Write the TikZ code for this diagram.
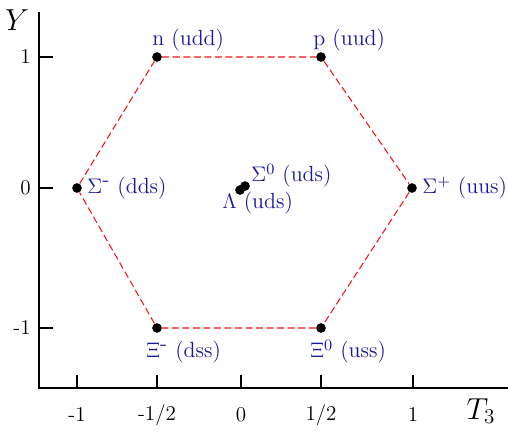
\documentclass[tikz,border=0pt]{standalone}
\usetikzlibrary{positioning}
\definecolor{labelblue}{RGB}{25,25,155}
\definecolor{hexred}{RGB}{240,20,20}
\begin{document}
\begin{tikzpicture}[x=0.02cm,y=0.02cm,
    particle/.style={circle,fill=black,inner sep=0pt,minimum size=5.5pt},
    plabel/.style={text=labelblue,font=\fontsize{12.5}{15}\selectfont,inner sep=0pt,anchor=base west},
    ticklabel/.style={inner sep=0pt,font=\large},
    hexline/.style={hexred,line width=0.6pt,dash pattern=on 4pt off 2pt}]

    \useasboundingbox (0,0) rectangle (508,438);

    % axes
    \coordinate (ytop) at (39,426);
    \coordinate (orig) at (39,50);
    \coordinate (xend) at (508,50);
    \draw[line width=1.1pt] (ytop) -- (orig) -- (xend);
    \node[font=\LARGE] (ylab) at (17,418) {$Y$};
    \node[font=\LARGE] (xlab) at (481,27) {$T_3$};

    % ticks on the Y axis
    \foreach \py/\lab in {381/1, 250/0, 110/-1} {
        \draw[line width=1.1pt] (39,\py) -- (53,\py);
        \node[ticklabel,anchor=east] at (31,\py) {\lab};
    }

    % ticks on the T3 axis
    \foreach \px/\lab in {77/{-1}, 157/{-1/2}, 241/{0}, 321/{1/2}, 413/{1}} {
        \draw[line width=1.1pt] (\px,50) -- (\px,63);
        \node[ticklabel] at (\px,23) {\lab};
    }

    % baryon octet
    \node[particle] (n)   at (157,381) {};
    \node[particle] (p)   at (321,381) {};
    \node[particle] (sp)  at (412,250) {};
    \node[particle] (xz)  at (321,110) {};
    \node[particle] (xm)  at (157,110) {};
    \node[particle] (sm)  at (77,250) {};
    \node[particle] (lam) at (240,248) {};
    \node[particle] (sz)  at (245,252) {};

    % hexagon
    \draw[hexline] (n) -- (p) -- (sp) -- (xz) -- (xm) -- (sm) -- (n);

    % labels
    \node[plabel] (nlab)   at (152,392) {n (udd)};
    \node[plabel] (plab)   at (313,392) {p (uud)};
    \node[plabel] (smlab)  at (87,244)  {$\Sigma^{\mbox{-}}$ (dds)};
    \node[plabel] (splab)  at (422,244) {$\Sigma^+$ (uus)};
    \node[plabel] (xmlab)  at (146,80)  {$\Xi^{\mbox{-}}$ (dss)};
    \node[plabel] (xzlab)  at (310,80)  {$\Xi^0$ (uss)};
    \node[plabel] (szlab)  at (251,256) {$\Sigma^0$ (uds)};
    \node[plabel] (lamlab) at (222,229) {$\Lambda$ (uds)};

\end{tikzpicture}
\end{document}
